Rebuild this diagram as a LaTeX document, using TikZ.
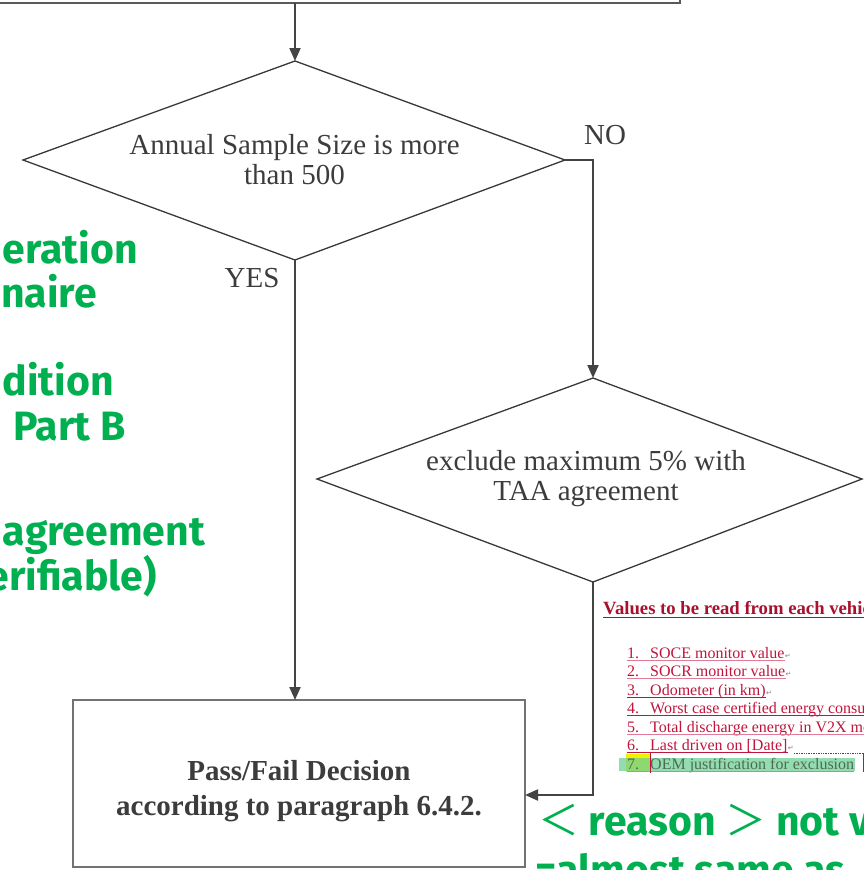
\documentclass[tikz,border=0pt]{standalone}
\usepackage{fontspec}
\setmainfont{Liberation Serif}
\newfontfamily\gfont{Fira Sans}
\newfontfamily\cjk{Noto Sans CJK JP}
\newfontfamily\dejavu{DejaVu Sans}
\usetikzlibrary{arrows.meta}
\definecolor{lineg}{HTML}{595959}
\definecolor{arrowg}{HTML}{444444}
\definecolor{txtg}{HTML}{3C3C3C}
\definecolor{diag}{HTML}{383838}
\definecolor{grn}{HTML}{00B050}
\definecolor{crim}{HTML}{C0143C}
\definecolor{crimdark}{HTML}{A8102E}
\definecolor{pinkline}{HTML}{E07A96}
\definecolor{hlgreen}{HTML}{6FCF95}
\definecolor{hlyellow}{HTML}{F2F200}
\definecolor{itemsev}{HTML}{4E6B52}
\tikzset{
  diaedge/.style={draw=diag, line width=1.3pt, line join=miter},
  diatext/.style={align=center, text=txtg, inner sep=0pt, font=\fontsize{29}{30}\selectfont},
  conn/.style={draw=lineg, line width=2pt, -{Triangle[length=13pt,width=11pt]}, arrowg},
  flowlabel/.style={text=txtg, font=\fontsize{29}{30}\selectfont, inner sep=0pt},
  gtext/.style={text=grn, font=\gfont\bfseries\fontsize{41}{45}\selectfont, inner sep=0pt},
  ltext/.style={text=crim, font=\fontsize{16}{18}\selectfont, inner sep=0pt, anchor=base west},
  retmark/.style={text=gray, font=\dejavu\fontsize{7}{8}\selectfont, inner sep=0pt, anchor=base west},
}
\newcommand\lstitem[2]{\makebox[23pt][l]{#1}#2}
\begin{document}
\begin{tikzpicture}[x=1pt,y=-1pt]
\useasboundingbox (0,0) rectangle (864,870);
\clip (0,0) rectangle (864,870);

% top box (mostly outside the picture)
\node[draw=lineg, line width=2.2pt, outer sep=0pt, minimum width=740pt, minimum height=80pt, anchor=south east] (top) at (680,3) {};

% decision 1
\coordinate (d1n) at (295,61);
\coordinate (d1e) at (565,160);
\coordinate (d1s) at (295,260);
\coordinate (d1w) at (23,160);
\draw[diaedge] (d1n) -- (d1e) -- (d1s) -- (d1w) -- cycle;
\node[diatext] (d1) at (294.5,160) {Annual Sample Size is more\\than 500};

% decision 2
\coordinate (d2n) at (593,378);
\coordinate (d2e) at (862,479);
\coordinate (d2s) at (593,582);
\coordinate (d2w) at (317,479);
\draw[diaedge] (d2n) -- (d2e) -- (d2s) -- (d2w) -- cycle;
\node[diatext] (d2) at (586,479) {exclude maximum 5\% with\\TAA agreement};

% result box
\node[draw=lineg!85, line width=2.2pt, outer sep=0pt, minimum width=452pt, minimum height=167pt] (box) at (299,783.5) {};
\node[align=center, text=txtg, inner sep=0pt, font=\bfseries\fontsize{29}{35}\selectfont] (boxtext) at (299,791)
  {Pass/Fail Decision\\according to paragraph 6.4.2.};

% labels
\node[flowlabel] (no) at (605,135) {NO};
\node[flowlabel] (yes) at (252,278) {YES};

% connectors
\draw[conn] (top.south -| d1n) -- (d1n);
\draw[conn] (d1e) -| (d2n);
\draw[conn] (d1s) -- (d1s |- box.north);
\coordinate (boxin) at ([yshift=-11.5pt]box.east);
\draw[conn] (d2s) |- (boxin);

% red list
\node[text=crimdark, font=\bfseries\fontsize{18.7}{20}\selectfont, inner sep=0pt, anchor=base west] (title) at (603,614) {Values to be read from each vehicle};
\draw[crimdark, line width=1pt] ([yshift=-3pt]title.base west) -- ([yshift=-3pt]title.base east);

\fill[hlyellow] (626,754) rectangle (650,772);
\fill[hlgreen, opacity=0.75] (619,758) rectangle (855,771);

\node[ltext] (i1) at (627,658) {\lstitem{1.}{SOCE monitor value}};
\node[ltext] (i2) at (627,676.5) {\lstitem{2.}{SOCR monitor value}};
\node[ltext] (i3) at (627,695) {\lstitem{3.}{Odometer (in km)}};
\node[ltext] (i4) at (627,713.5) {\lstitem{4.}{Worst case certified energy consumption}};
\node[ltext] (i5) at (627,732) {\lstitem{5.}{Total discharge energy in V2X mode}};
\node[ltext] (i6) at (627,750.5) {\lstitem{6.}{Last driven on [Date]}};
\node[ltext, text=itemsev] (i7) at (627,769) {\lstitem{7.}{OEM justification for exclusion}};

\draw[pinkline, line width=0.9pt] ([yshift=-2pt]i1.base west) -- ([yshift=-2pt]i1.base east);
\draw[pinkline, line width=0.9pt] ([yshift=-2pt]i2.base west) -- ([yshift=-2pt]i2.base east);
\draw[crim, line width=0.9pt] ([yshift=-2pt]i3.base west) -- ([yshift=-2pt]i3.base east);
\draw[crim, line width=0.9pt] ([yshift=-2pt]i4.base west) -- ([yshift=-2pt]i4.base east);
\draw[pinkline, line width=0.9pt] ([yshift=-2pt]i5.base west) -- ([yshift=-2pt]i5.base east);
\draw[crim, line width=0.9pt] ([yshift=-2pt]i6.base west) -- ([yshift=-2pt]i6.base east);
\draw[pinkline, line width=0.9pt] ([yshift=-2.5pt]i7.base west) -- ([yshift=-2.5pt]i7.base east);

\node[retmark] (r1) at (i1.base east) {↵};
\node[retmark] (r2) at (i2.base east) {↵};
\node[retmark] (r3) at (i3.base east) {↵};
\node[retmark] (r6) at (i6.base east) {↵};

\draw[crim, densely dotted, line width=0.7pt] (r6.east |- 0,753) -- (863,753);
\draw[crim, line width=0.8pt] (863,753) -- (863,772);
\draw[crim, line width=1pt] (650,753) -- (650,773);

% green annotation texts
\node[gtext, anchor=base east] (g1) at (138,263) {eration};
\node[gtext, anchor=base east] (g2) at (97,307) {naire};
\node[gtext, anchor=base east] (g3) at (114,395) {dition};
\node[gtext, anchor=base west] (g4) at (13,440) {Part B};
\node[gtext, anchor=base east] (g5) at (205,545) {agreement};
\node[gtext, anchor=base east] (g6) at (157,590) {erifiable)};
\node[gtext, anchor=base west] (g7) at (538,835) {{\cjk\mdseries ＜} reason {\cjk\mdseries ＞} not v};
\node[gtext, anchor=base west] (g8) at (535,884) {=almost same as};
\end{tikzpicture}
\end{document}
